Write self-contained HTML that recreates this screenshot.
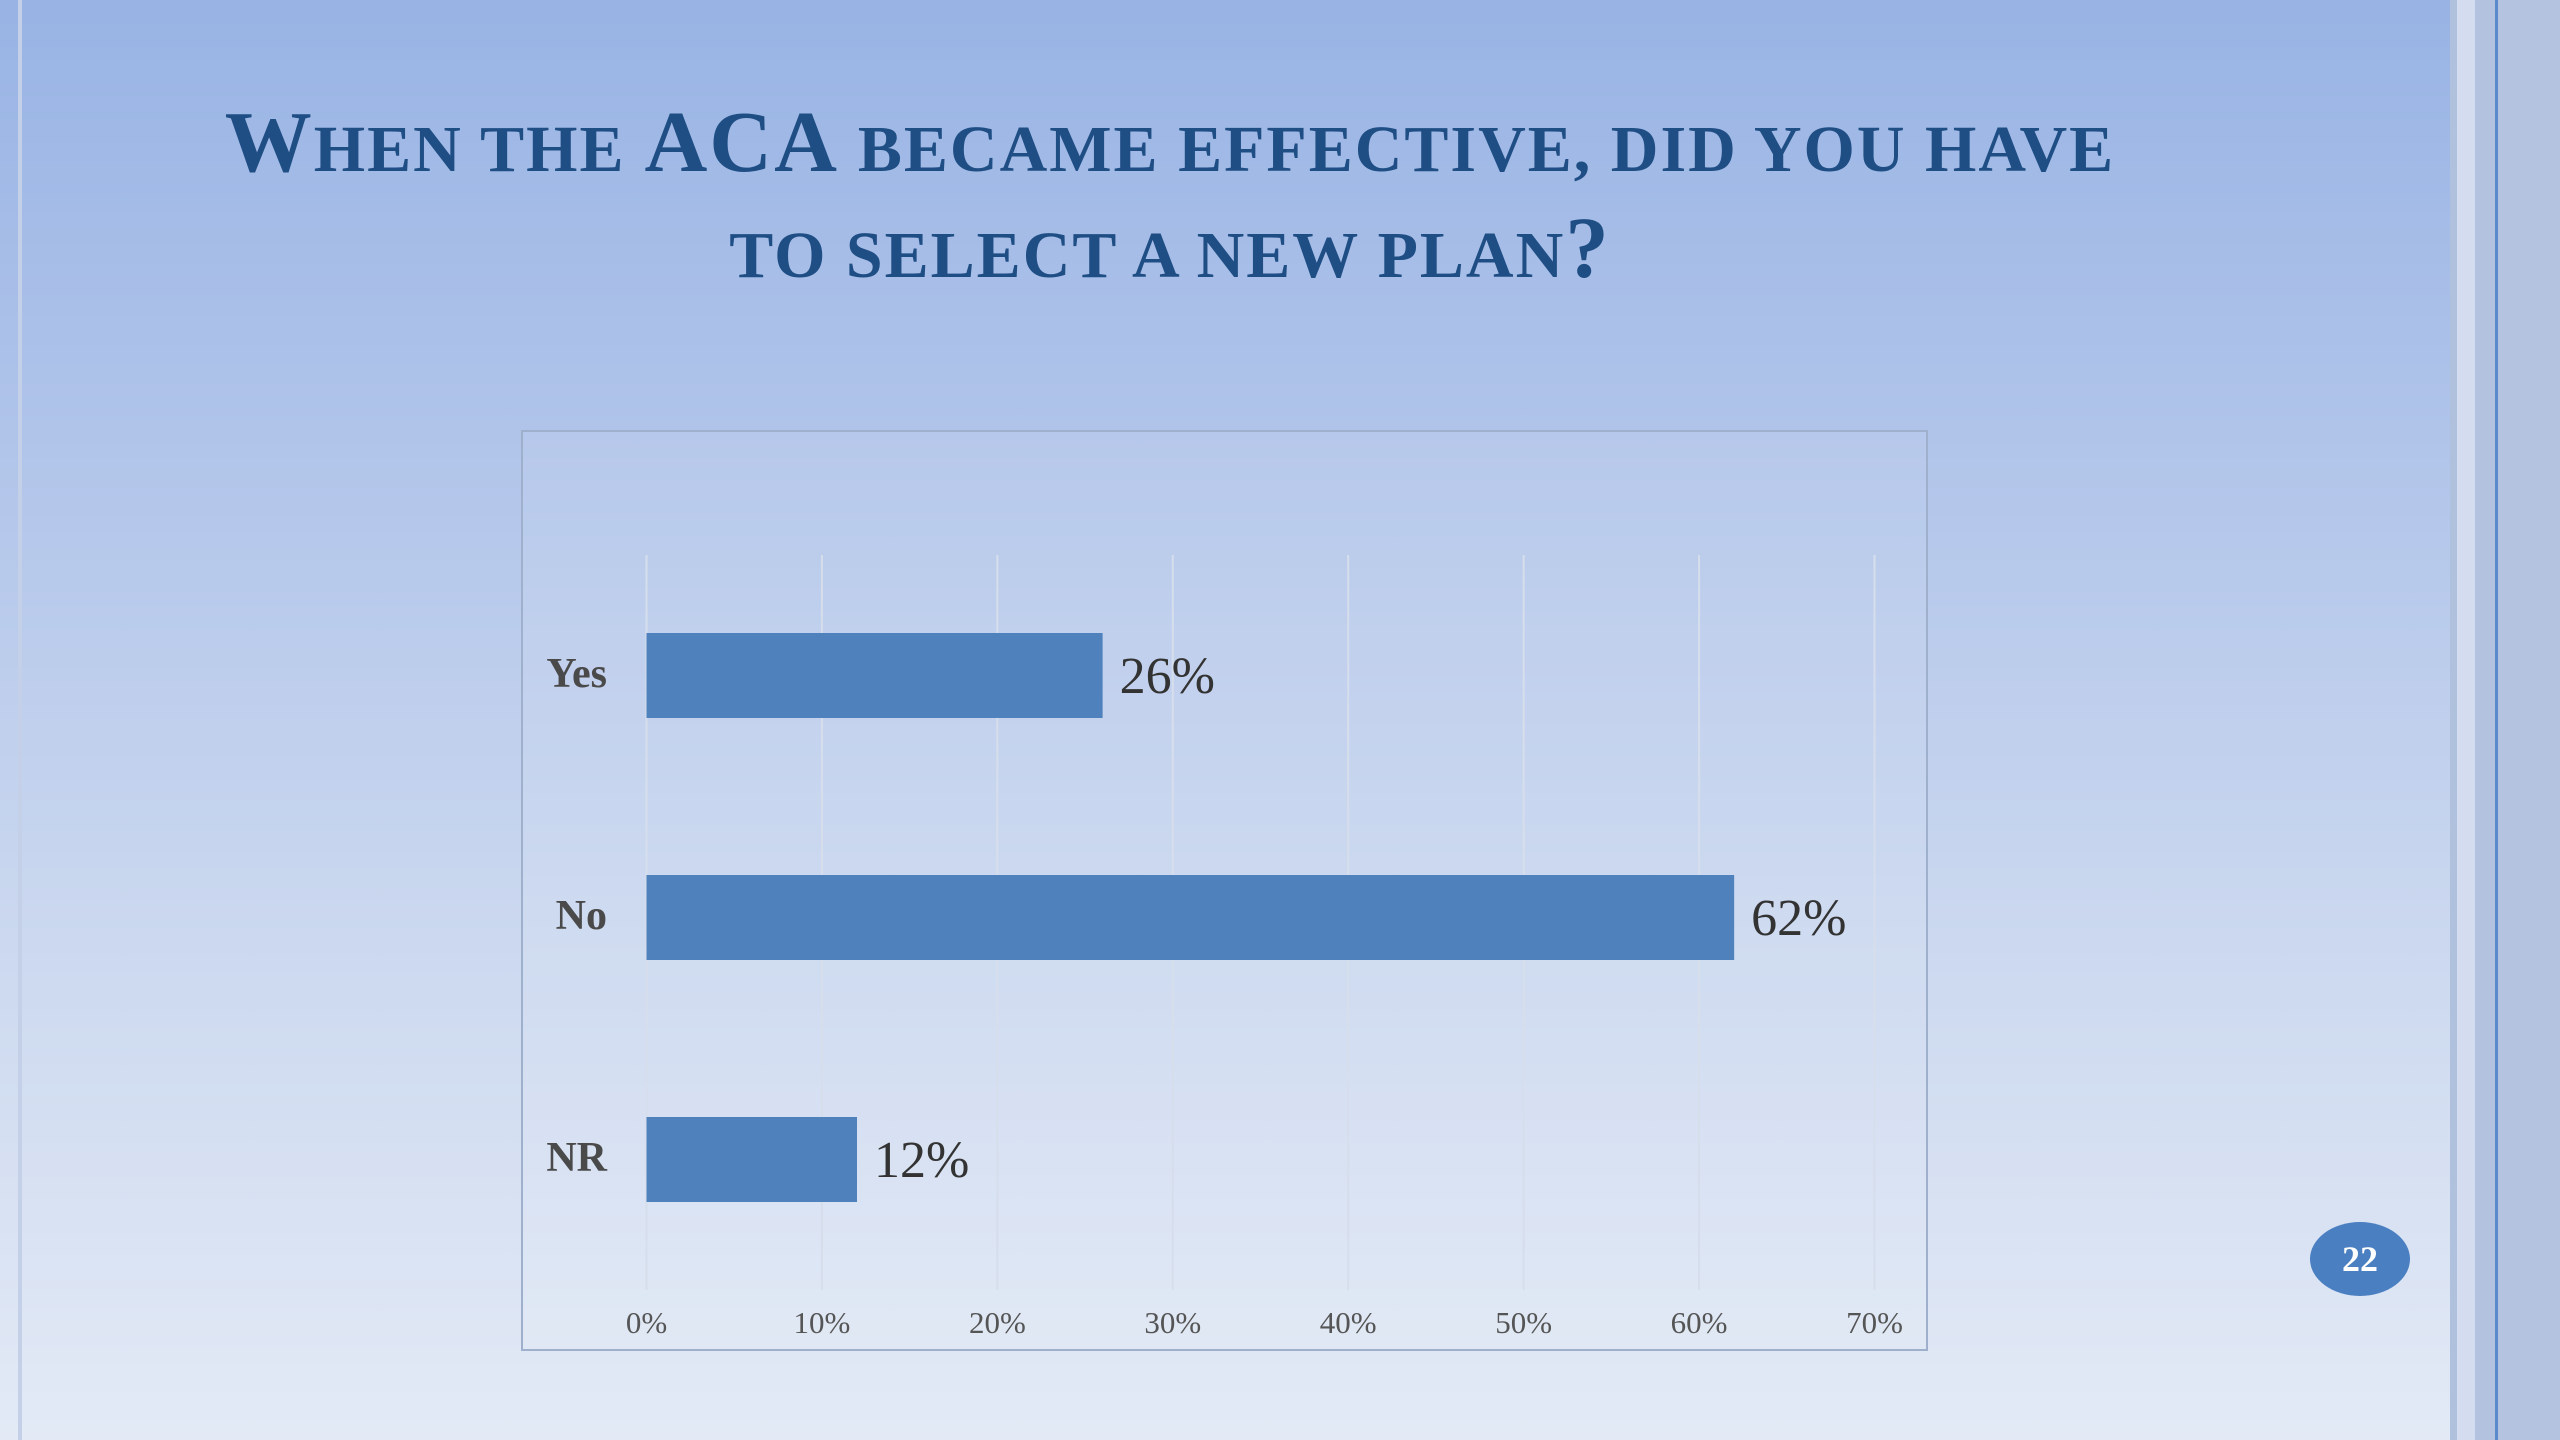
<!DOCTYPE html>
<html><head><meta charset="utf-8"><style>
html,body{margin:0;padding:0}
body{width:2560px;height:1440px;position:relative;overflow:hidden;background:linear-gradient(180deg,#98b3e4 0%,#b0c4ea 30%,#cbd8ef 65%,#e3eaf6 100%);font-family:"Liberation Serif",serif}
.abs{position:absolute}
#title{left:100px;width:2140px;top:93px;text-align:center;color:#1f4e85;font-weight:bold;font-size:87px;line-height:98px;letter-spacing:2px;text-transform:uppercase}
#title .s{font-size:66px}
</style></head><body>
<div class="abs" style="left:18px;top:0;width:4px;height:1440px;background:#c3d0e8"></div>
<div class="abs" style="left:2450px;top:0;width:7px;height:1440px;background:#b0c1de"></div>
<div class="abs" style="left:2457px;top:0;width:18px;height:1440px;background:#d3ddef"></div>
<div class="abs" style="left:2475px;top:0;width:20px;height:1440px;background:#b2c2df"></div>
<div class="abs" style="left:2495px;top:0;width:3px;height:1440px;background:#5b89cc"></div>
<div class="abs" style="left:2498px;top:0;width:62px;height:1440px;background:#b4c4e0"></div>
<div id="title" class="abs">W<span class="s">hen the</span> ACA <span class="s">became effective, did you have</span><br><span class="s">to select a new plan</span>?</div>
<svg class="abs" style="left:0;top:0" width="2560" height="1440" id="chart"></svg>
<div class="abs" style="left:2310px;top:1222px;width:100px;height:74px;border-radius:50%;background:#4a7fc1;color:#fff;font-weight:bold;font-size:36px;line-height:74px;text-align:center">22</div>
<script>
const categories=["Yes","No","NR"];
const values=[26,62,12];
const tickValues=[0,10,20,30,40,50,60,70];
const tickLabels=["0%","10%","20%","30%","40%","50%","60%","70%"];
const NS="http://www.w3.org/2000/svg";
const svg=document.getElementById('chart');
const x0=646.5,x70=1874.5,xMax=70;
function xs(v){return x0+(x70-x0)*v/xMax;}
const bandTop=555,bandH=242;
function yc(i){return bandTop+bandH*i+120;}
function mk(t,a){const e=document.createElementNS(NS,t);for(const k in a)e.setAttribute(k,a[k]);svg.appendChild(e);return e;}
let box=mk('rect',{x:522,y:431,width:1405,height:919,fill:'rgba(255,255,255,0.08)',stroke:'#9fb0cc','stroke-width':2});


tickValues.forEach((v,i)=>{
 const g=mk('line',{x1:xs(v),x2:xs(v),y1:555,y2:1290,stroke:'#d6deec','stroke-width':2});
 
 
 const t=mk('text',{x:xs(v),y:1333,'text-anchor':'middle','font-size':31,fill:'#555','font-family':'Liberation Serif, serif'});
 t.textContent=tickLabels[i];
 
 
});
categories.forEach((c,i)=>{
 const cy=yc(i);
 const b=mk('rect',{x:x0,y:cy-42,width:xs(values[i])-x0,height:85,fill:'#4f81bd'});
 
 
 const l=mk('text',{x:607,y:cy+12,'text-anchor':'end','font-size':42,'font-weight':'bold',fill:'#4a4a4a','font-family':'Liberation Serif, serif'});
 l.textContent=c;
 
 
 const vl=mk('text',{x:xs(values[i])+17,y:cy+18,'font-size':52,fill:'#333','font-family':'Liberation Serif, serif'});
 vl.textContent=values[i]+'%';
 
 
});
</script>
</body></html>
